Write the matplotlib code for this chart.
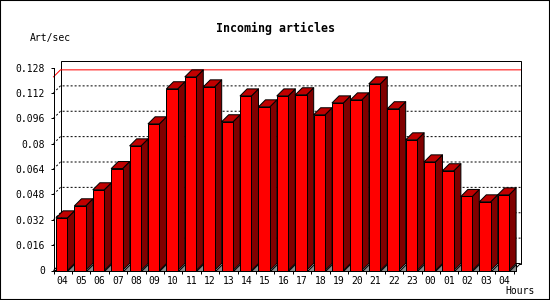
import matplotlib
matplotlib.use("Agg")
import matplotlib.pyplot as plt
from matplotlib.patches import Rectangle, Polygon
from matplotlib.collections import PolyCollection

# hourly rates
hours = ["04", "05", "06", "07", "08", "09", "10", "11", "12", "13", "14", "15",
         "16", "17", "18", "19", "20", "21", "22", "23", "00", "01", "02", "03", "04"]
art_per_sec = [0.0332, 0.0408, 0.0509, 0.0643, 0.0786, 0.0925, 0.1146, 0.1221,
               0.1158, 0.0938, 0.1101, 0.1032, 0.1101, 0.1108, 0.0982, 0.1057,
               0.1076, 0.1177, 0.1020, 0.0824, 0.0685, 0.0629, 0.0467, 0.0433,
               0.0477]
y_ticks = [0, 0.016, 0.032, 0.048, 0.064, 0.080, 0.096, 0.112, 0.128]
y_tick_labels = ["0", "0.016", "0.032", "0.048", "0.064", "0.08", "0.096", "0.112", "0.128"]

W, H = 550, 300
mono = "DejaVu Sans Mono"
lw = 0.72  # one pixel at 100 dpi

fig = plt.figure(figsize=(W / 100, H / 100), dpi=100)
fig.patch.set_facecolor("white")

# front plane of the 3d box, in pixels
ax_l, ax_b, ax_w, ax_h = 53.5, 29.5, 460, 203
ax = fig.add_axes([ax_l / W, ax_b / H, ax_w / W, ax_h / H])
n = len(art_per_sec)
ax.set_xlim(-0.5, n - 0.5)
ax.set_ylim(0, y_ticks[-1])
ax.set_facecolor("none")

# depth offset (7 px right, 7 px up) in data units
dx = 7 / (ax_w / n)
dy = 7 / (ax_h / y_ticks[-1])

# back wall + floor
x0, x1 = -0.5, n - 0.5
ax.add_patch(Rectangle((x0 + dx, dy), n, y_ticks[-1], facecolor="white",
                       edgecolor="black", lw=lw, clip_on=False, zorder=0))
ax.add_patch(Polygon([(x0, 0), (x1, 0), (x1 + dx, dy), (x0 + dx, dy)], closed=True,
                     facecolor="white", edgecolor="black", lw=lw, clip_on=False, zorder=0.5))

# dotted grid on left wall + back wall
for v in y_ticks[1:-1]:
    ax.plot([x0, x0 + dx, x1 + dx], [v, v + dy, v + dy], color="black", lw=lw,
            linestyle=(0, (2, 2)), clip_on=False, zorder=1)

# red line at the maximum
vmax = max(art_per_sec)
ax.plot([x0, x0 + dx, x1 + dx], [vmax, vmax + dy, vmax + dy], color="red", lw=lw,
        clip_on=False, zorder=1.5)

# bars
bw = 0.62
lefts = [i - 0.36 for i in range(n)]
sides, tops, floors = [], [], []
for l, v in zip(lefts, art_per_sec):
    r = l + bw
    sides.append([(r, 0), (r + dx, dy), (r + dx, v + dy), (r, v)])
    tops.append([(l, v), (r, v), (r + dx, v + dy), (l + dx, v + dy)])
    floors.append([(r, 0), (r + dx, 0), (r + dx, dy)])
ax.add_collection(PolyCollection(floors, facecolors="#8c8c8c", edgecolors="black",
                                 linewidths=lw, zorder=2, clip_on=False))
ax.add_collection(PolyCollection(sides, facecolors="#800000", edgecolors="black",
                                 linewidths=lw, zorder=2, clip_on=False))
ax.add_collection(PolyCollection(tops, facecolors="#c00000", edgecolors="black",
                                 linewidths=lw, zorder=2, clip_on=False))
ax.bar(lefts, art_per_sec, width=bw, align="edge", color="#ff0000",
       edgecolor="black", linewidth=lw, zorder=3, clip_on=False)

# axes and ticks
for s in ["top", "right"]:
    ax.spines[s].set_visible(False)
for s in ["left", "bottom"]:
    ax.spines[s].set_linewidth(lw)
    ax.spines[s].set_zorder(4)
ax.set_yticks(y_ticks, labels=y_tick_labels)
ax.set_xticks(range(n), labels=hours)
ax.set_xticks([i - 0.5 for i in range(n + 1)], minor=True)
ax.tick_params(axis="y", length=2.2, width=lw, pad=3.8, labelsize=7, direction="out")
ax.tick_params(axis="x", which="major", length=0, pad=4.0, labelsize=7)
ax.tick_params(axis="x", which="minor", length=2.2, width=lw, direction="out")
for t in ax.get_xticklabels() + ax.get_yticklabels():
    t.set_fontfamily(mono)

# texts
fig.text(0.5, 1 - 28 / H, "Incoming articles", ha="center", va="center",
         family=mono, weight="bold", fontsize=8.4)
fig.text(29.5 / W, 1 - 37.5 / H, "Art/sec", ha="left", va="center", family=mono, fontsize=7)
fig.text(505 / W, 1 - 291.5 / H, "Hours", ha="left", va="center", family=mono, fontsize=7)

# outer frame
fig.patches.append(Rectangle((0, 0), 1, 1, transform=fig.transFigure, fill=False,
                             edgecolor="black", lw=1.5))

fig.savefig("out.png", dpi=100)
